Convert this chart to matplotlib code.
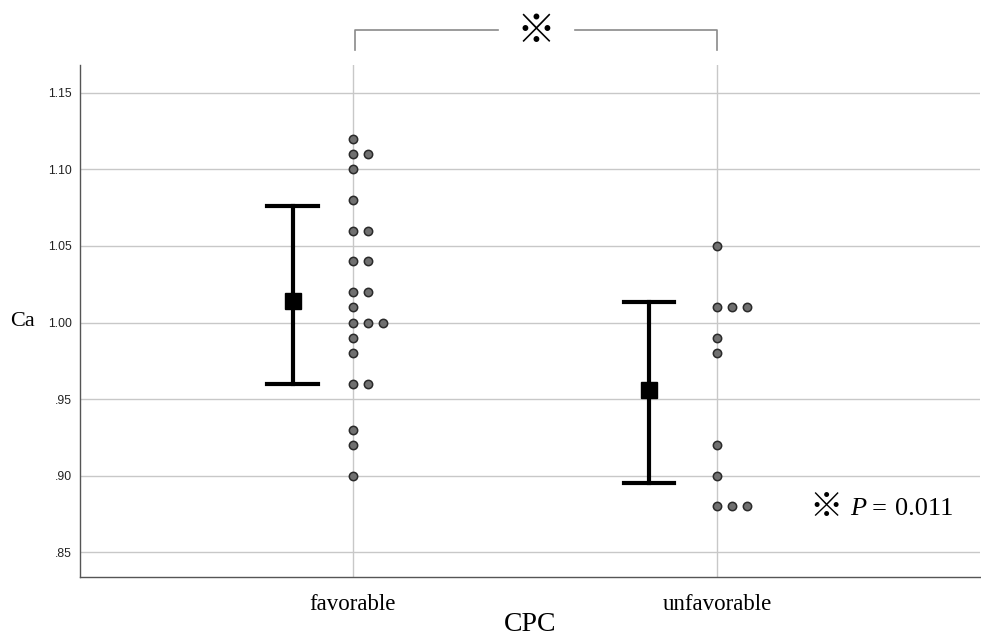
import matplotlib
matplotlib.use("Agg")
import matplotlib.pyplot as plt
import numpy as np

categories = ["favorable", "unfavorable"]
fav_values = [1.12, 1.11, 1.11, 1.10, 1.08, 1.06, 1.06, 1.04, 1.04, 1.02, 1.02, 1.01,
              1.00, 1.00, 1.00, 0.99, 0.98, 0.96, 0.96, 0.93, 0.92, 0.90]
unf_values = [1.05, 1.01, 1.01, 1.01, 0.99, 0.98, 0.92, 0.90, 0.88, 0.88, 0.88]
means = [1.0143, 0.9563]
ci_low = [0.9596, 0.8950]
ci_high = [1.0763, 1.0137]
yticks = [0.85, 0.90, 0.95, 1.00, 1.05, 1.10, 1.15]
yticklabels = [".85", ".90", ".95", "1.00", "1.05", "1.10", "1.15"]

fig = plt.figure(figsize=(9.81, 6.39), dpi=100)
ax = fig.add_axes([80/981, (639-577)/639, 900/981, (577-65)/639])

serif = "Liberation Serif"
sans = "Liberation Sans"

# dot plots (stacked horizontally)
step = 0.041
for i, vals in enumerate([fav_values, unf_values]):
    counts = {}
    xs, ys = [], []
    for v in vals:
        k = round(v, 3)
        n = counts.get(k, 0)
        counts[k] = n + 1
        xs.append(i + n * step)
        ys.append(v)
    ax.scatter(xs, ys, s=36, color="#707070", edgecolor="#2a2a2a", linewidth=1.1, zorder=4)

# means with error bars
offsets = [-0.165, -0.187]
cap = 0.069
for i in range(2):
    x = i + offsets[i]
    ax.plot([x, x], [ci_low[i], ci_high[i]], color="black", lw=3, zorder=5)
    for yv in (ci_low[i], ci_high[i]):
        ax.plot([x - cap, x + cap], [yv, yv], color="black", lw=3, zorder=5)
    ax.plot([x], [means[i]], marker="s", ms=12, color="black", zorder=6)

ax.set_xlim(-0.748, 1.72)
ax.set_ylim(0.834, 1.168)
ax.set_yticks(yticks)
ax.set_yticklabels(yticklabels, fontfamily=sans, fontsize=8.8, color="#222222")
ax.set_xticks([0, 1])
ax.set_xticklabels(categories, fontfamily=serif, fontsize=16.5)
ax.tick_params(axis="both", length=0)
ax.tick_params(axis="y", pad=6)
ax.tick_params(axis="x", pad=12)
ax.grid(True, color="#c8c8c8", lw=1.0)
ax.set_axisbelow(True)
for s in ["top", "right"]:
    ax.spines[s].set_visible(False)
for s in ["left", "bottom"]:
    ax.spines[s].set_color("#555555")
    ax.spines[s].set_linewidth(1.0)

ax.set_xlabel("CPC", fontfamily=serif, fontsize=20, labelpad=-2)
fig.text(10/981, 1 - 322/639, "Ca", fontfamily=serif, fontsize=16, va="center", ha="left")

# significance bracket (in figure coords)
def fx(px): return px / 981
def fy(py): return 1 - py / 639
bc = "#8a8a8a"
fig.add_artist(plt.Line2D([fx(355), fx(355), fx(498)], [fy(50), fy(30), fy(30)], color=bc, lw=1.2))
fig.add_artist(plt.Line2D([fx(575), fx(717), fx(717)], [fy(30), fy(30), fy(50)], color=bc, lw=1.2))
fig.text(fx(536), fy(32), "※", fontfamily=["Noto Sans CJK JP", "DejaVu Sans"], fontsize=28,
         ha="center", va="center")

fig.text(fx(826), fy(508), "※", fontfamily=["Noto Sans CJK JP", "DejaVu Sans"], fontsize=24,
         ha="center", va="center")
fig.text(fx(850), fy(509), "P", fontfamily=serif, fontstyle="italic", fontsize=19,
         ha="left", va="center")
fig.text(fx(872), fy(509), "=", fontfamily=serif, fontsize=19, ha="left", va="center")
fig.text(fx(895), fy(509), "0.011", fontfamily=serif, fontsize=19, ha="left", va="center")
fig.savefig("out.png", dpi=100, facecolor="white")
